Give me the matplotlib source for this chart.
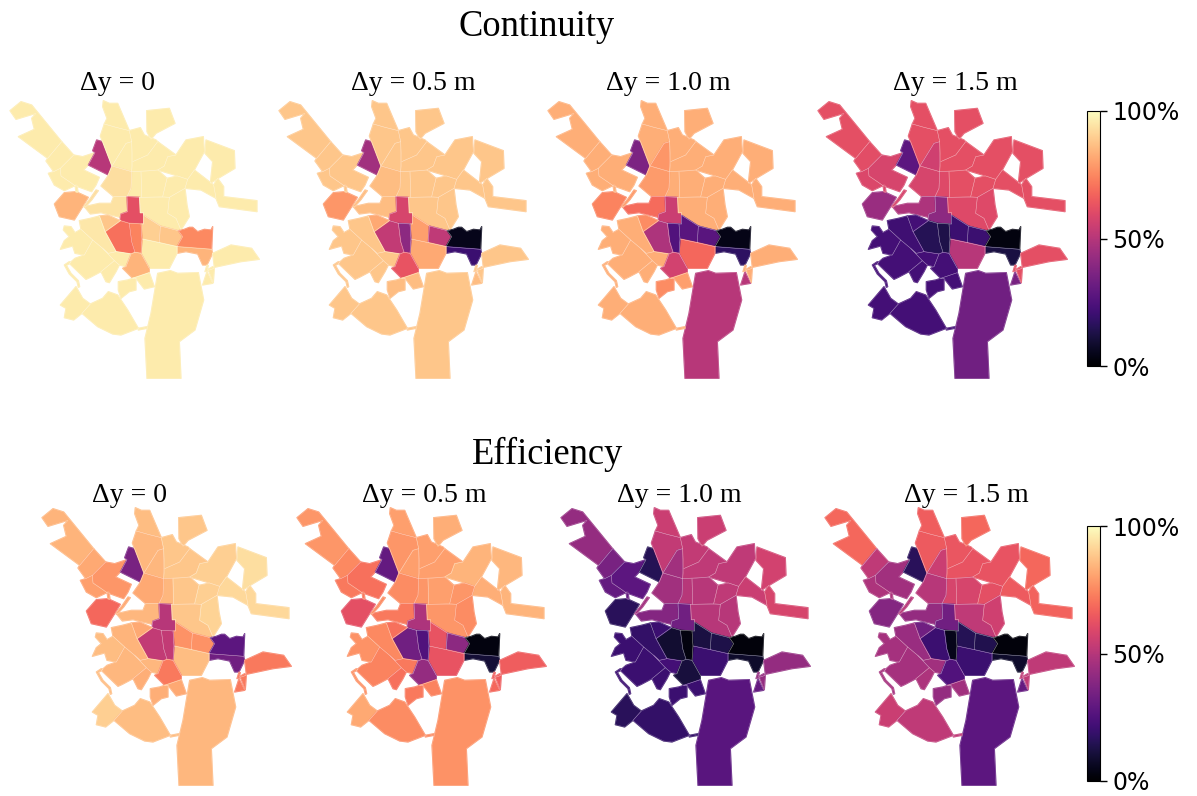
import matplotlib
matplotlib.use('Agg')
import matplotlib.pyplot as plt
from matplotlib.collections import PolyCollection

W, H = 1197, 796

# district outlines, map units (3 units = 1 pixel), y pointing down
outlines = [
    [(27,62),(60,35),(92,45),(182,155),(140,205),(52,140),(100,118),(92,85),(105,70),(45,88)],
    [(182,155),(218,195),(178,235),(158,245),(135,213),(140,205)],
    [(178,235),(218,195),(245,200),(282,188),(262,225),(248,240),(295,262),(285,285),(272,305),(222,287),(208,277),(180,258)],
    [(142,250),(158,245),(178,235),(180,258),(208,277),(222,287),(190,302),(160,285)],
    [(275,182),(287,150),(305,155),(333,228),(322,255),(262,225),(282,188)],
    [(307,32),(325,40),(350,40),(385,122),(345,112),(310,102),(318,85),(305,50)],
    [(310,102),(345,112),(385,122),(392,155),(375,160),(333,228),(305,155),(298,138)],
    [(375,160),(392,155),(392,245),(333,228)],
    [(385,122),(418,113),(430,135),(465,150),(470,155),(440,195),(395,215),(392,155)],
    [(470,155),(525,195),(500,200),(490,228),(470,240),(392,245),(395,215),(440,195)],
    [(437,62),(505,55),(522,100),(465,130),(450,148),(438,125)],
    [(525,195),(555,150),(607,140),(610,185),(580,240),(560,268),(530,258),(470,240),(490,228),(500,200)],
    [(615,150),(700,182),(702,235),(660,260),(628,280),(635,215),(612,190)],
    [(580,240),(638,285),(645,325),(600,300),(552,295),(560,268)],
    [(650,265),(668,290),(668,320),(768,332),(768,365),(655,350),(645,325),(638,285)],
    [(392,245),(420,245),(422,322),(378,320),(390,295)],
    [(333,228),(392,245),(390,295),(378,320),(338,320),(300,288),(318,262),(322,255)],
    [(420,245),(470,240),(498,265),(485,320),(422,322)],
    [(498,265),(530,258),(560,268),(552,295),(505,322),(485,320)],
    [(338,320),(378,320),(380,365),(360,372),(358,382),(300,368),(268,372),(250,350),(295,340),(330,340)],
    [(378,320),(416,322),(418,368),(428,368),(428,402),(385,400),(358,392),(358,382),(360,372),(380,365)],
    [(416,322),(505,322),(500,370),(525,385),(540,420),(532,422),(478,408),(428,376),(428,368),(418,368)],
    [(505,322),(552,295),(558,345),(565,380),(540,420),(525,385),(500,370)],
    [(428,376),(478,408),(475,458),(423,447),(420,402),(428,402)],
    [(478,408),(532,422),(545,440),(528,470),(475,458)],
    [(532,422),(550,418),(565,412),(575,412),(590,425),(610,418),(630,420),(635,410),(632,478),(528,470),(545,440)],
    [(528,470),(632,478),(635,490),(618,525),(605,525),(590,492),(555,485),(528,490)],
    [(423,447),(475,458),(528,470),(528,490),(505,535),(445,535),(420,490)],
    [(385,400),(420,402),(423,447),(420,490),(402,487),(392,455)],
    [(358,392),(385,400),(392,455),(402,487),(390,492),(345,485),(312,425)],
    [(295,378),(320,375),(358,392),(312,425)],
    [(235,392),(268,385),(295,378),(312,425),(345,485),(322,490),(305,475),(275,450),(240,418)],
    [(190,408),(210,410),(222,428),(240,418),(275,450),(250,495),(222,490),(215,468),(178,478),(190,452),(205,440),(187,420)],
    [(275,450),(305,475),(340,512),(300,545),(268,562),(255,568),(205,520),(222,505),(250,495)],
    [(305,475),(322,490),(345,485),(390,492),(375,530),(355,525),(340,512)],
    [(340,512),(355,525),(345,545),(325,578),(315,575),(300,545)],
    [(402,487),(420,490),(445,535),(445,548),(395,565),(365,535),(375,530),(390,492)],
    [(395,565),(445,548),(460,590),(430,597),(405,565)],
    [(352,575),(380,570),(395,565),(405,565),(405,600),(385,605),(360,625),(352,600)],
    [(225,590),(245,625),(268,642),(243,670),(218,690),(190,683),(195,655),(178,645)],
    [(268,642),(305,625),(322,605),(350,615),(380,660),(412,715),(360,735),(335,732),(290,710),(243,670)],
    [(470,550),(508,542),(530,550),(592,548),(608,630),(582,720),(535,755),(540,865),(438,865),(432,745),(450,670)],
    [(160,342),(190,308),(225,305),(262,322),(245,350),(220,390),(175,380)],
    [(635,490),(690,465),(752,475),(775,508),(720,515),(640,532)],
    [(618,545),(635,580),(605,585)],
]

# narrow river links and small pieces, each takes the value of the district listed beside it
links = [
    ([(205,515),(190,525),(205,552),(228,575),(232,592),(236,590),(232,572),(210,550),(196,526),(210,518)], 32),
    ([(222,285),(228,285),(231,306),(225,306)], 3),
    ([(248,350),(268,325),(285,300),(292,302),(272,330),(252,352)], 16),
    ([(412,715),(438,710),(438,715),(412,720)], 40),
    ([(618,525),(612,545),(640,535),(635,530),(618,540),(622,527)], 43),
    ([(622,540),(640,535),(637,578)], 43),
]

continuity = [
    [96,96,96,96,50,96,96,96,96,96,96,96,96,96,96,96,93,96,96,94,62,96,96,90,88,75,84,96,74,70,88,95,96,96,96,96,84,96,96,96,96,96,84,96,96],
    [88,88,88,88,45,88,88,88,88,88,88,88,88,88,88,88,86,88,88,86,58,88,88,80,52,5,20,82,40,53,82,88,88,88,88,88,63,86,86,88,88,88,78,88,86],
    [83,83,83,83,36,83,83,78,83,83,83,83,83,83,83,83,79,83,83,69,55,83,83,27,27,4,17,68,25,48,76,83,83,83,83,83,57,80,76,83,83,50,74,83,50],
    [62,61,58,59,28,62,62,56,62,62,62,62,62,62,62,60,58,62,62,48,40,60,60,20,20,3,12,50,13,15,22,21,22,22,22,22,22,22,22,22,22,33,43,62,35],
]
efficiency = [
    [84,82,78,80,35,86,85,85,88,88,88,90,93,92,92,85,82,88,90,85,50,88,91,77,77,28,33,86,53,53,82,84,86,85,85,83,72,82,83,90,86,85,68,72,72],
    [78,75,70,72,30,80,78,80,80,80,83,84,85,83,84,78,76,80,78,72,48,78,76,63,40,3,10,63,25,33,70,75,77,74,72,70,42,74,72,82,76,77,62,66,68],
    [42,35,28,30,15,55,53,45,53,52,55,52,57,55,58,50,45,50,52,38,33,50,50,12,13,2,8,20,3,9,20,18,20,20,22,20,11,20,20,16,18,27,16,42,30],
    [68,52,45,48,16,66,65,55,64,63,68,63,68,65,67,58,50,58,62,42,33,52,56,15,14,2,8,20,5,20,33,43,46,46,45,48,25,45,42,55,52,28,38,52,30],
]

subtitles = ['Δy = 0', 'Δy = 0.5 m', 'Δy = 1.0 m', 'Δy = 1.5 m']
row_titles = ['Continuity', 'Efficiency']
cbar_ticks = [0, 50, 100]
cbar_labels = ['0%', '50%', '100%']

serif = ['Liberation Serif', 'DejaVu Serif']


def px_axes(fig, x, y, w, h):
    # axes from pixel box, y measured from the top
    return fig.add_axes([x/W, 1-(y+h)/H, w/W, h/H])


def draw_map(ax, vals):
    polys = outlines + [l[0] for l in links]
    colors = list(vals) + [vals[l[1]] for l in links]
    # face coloured edge closes the seams, faint white one marks the borders
    pc = PolyCollection(polys, array=colors, cmap='magma', edgecolors='face', linewidths=0.9)
    pc.set_clim(0, 100)
    ax.add_collection(pc)
    ax.add_collection(PolyCollection(polys, facecolors='none', edgecolors=(1, 1, 1, 0.35), linewidths=0.35))
    ax.set_xlim(0, 810)
    ax.set_ylim(885, 0)
    ax.axis('off')
    return pc


fig = plt.figure(figsize=(W/100, H/100), dpi=100)

rows = [
    (continuity, 90, [1, 270, 539, 809], [118, 413, 668, 955], 84, 537, 27, 111),
    (efficiency, 497, [33, 288, 552, 816], [129, 424, 679, 966], 496, 548, 454, 526),
]

for r, (data, y0, xs, sub_x, sub_y, title_x, title_y, cb_y) in enumerate(rows):
    for i in range(4):
        ax = px_axes(fig, xs[i], y0, 270, 295)
        pc = draw_map(ax, data[i])
        fig.text(sub_x[i]/W, 1-sub_y/H, subtitles[i], family=serif, fontsize=20, ha='center', va='center')
    fig.text(title_x/W, 1-title_y/H, row_titles[r], family=serif, fontsize=26.3, ha='center', va='center')

    cax = px_axes(fig, 1087, cb_y, 13, 255)
    cb = fig.colorbar(pc, cax=cax)
    cb.set_ticks(cbar_ticks)
    cb.set_ticklabels(cbar_labels)
    cb.ax.tick_params(labelsize=17, length=5, width=1, pad=4)

fig.savefig('out.png', dpi=100)
